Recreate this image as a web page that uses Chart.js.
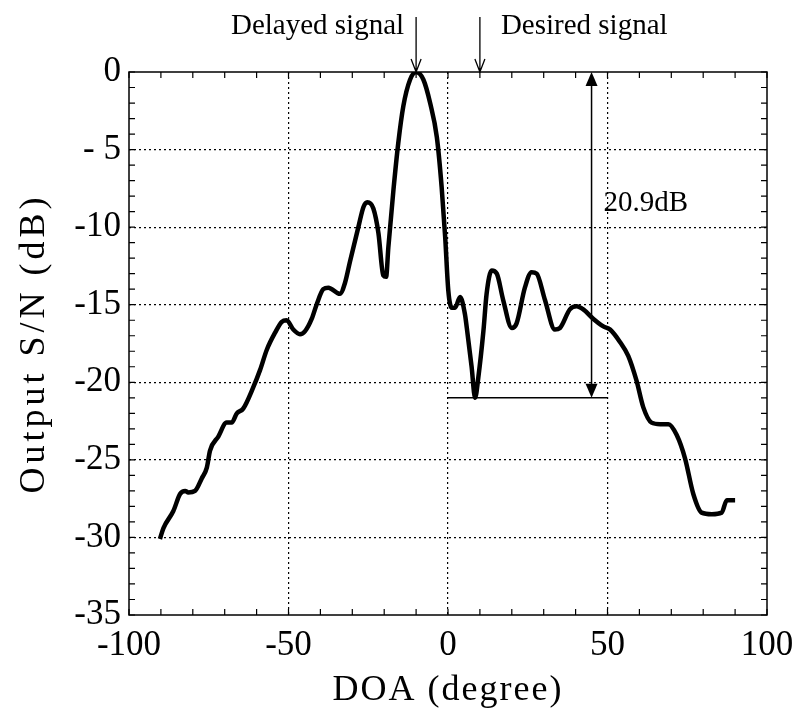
<!DOCTYPE html>
<html lang="en">
<head>
  <meta charset="UTF-8">
  <title>Output S/N (dB)</title>
  <script src="https://cdn.jsdelivr.net/npm/chart.js@4.4.1/dist/chart.umd.min.js"></script>
  <style>
    html, body { margin: 0; padding: 0; background: #fff; }
  </style>
</head>
<body>

  <canvas id="sn" width="793" height="716"></canvas>

  <script>

  // array pattern: output S/N against direction of arrival
  const doa = [
    -90.3, -89.2, -86.1, -84.0, -82.4, -81.4, -79.3, -77.2, -75.6, -74.6,
    -72.0, -69.4, -67.8, -66.2, -64.2, -61.0, -58.9, -56.8, -54.2, -52.1,
    -50.6, -48.5, -46.4, -44.8, -42.7, -41.2, -39.1, -37.5, -33.9, -32.3,
    -30.7, -28.1, -26.5, -25.3, -23.4, -21.8, -20.3, -19.4, -18.7, -17.1,
    -15.6, -14.0, -11.9, -10.0, -7.7, -5.6, -3.5, -2.0, -0.9, 0.1,
    1.2, 2.2, 3.8, 5.3, 5.9, 7.4, 8.5, 9.5, 11.1, 12.1,
    13.7, 15.3, 17.3, 20.0, 21.5, 24.1, 26.2, 27.8, 30.4, 33.5,
    35.1, 38.2, 40.3, 42.4, 45.5, 48.7, 50.8, 53.9, 56.5, 59.1,
    61.2, 63.8, 66.5, 69.1, 71.7, 74.3, 76.9, 79.5, 82.7, 85.8,
    87.4, 90.0
  ];
  const outputSN = [
    -30.1, -29.4, -28.3, -27.2, -27.0, -27.1, -27.0, -26.2, -25.5, -24.4,
    -23.5, -22.6, -22.6, -22.0, -21.7, -20.3, -19.2, -17.9, -16.8, -16.1,
    -16.0, -16.6, -16.9, -16.7, -15.9, -15.0, -14.0, -13.9, -14.3, -13.6,
    -12.2, -10.0, -8.7, -8.4, -8.8, -10.4, -13.1, -13.2, -11.3, -7.6,
    -4.6, -2.2, -0.5, 0.0, -0.5, -2.0, -4.2, -7.4, -10.6, -14.1,
    -15.2, -15.2, -14.5, -15.6, -16.5, -19.0, -21.0, -19.7, -16.7, -14.3,
    -12.8, -13.0, -14.7, -16.5, -16.2, -13.9, -12.9, -13.0, -14.7, -16.6,
    -16.5, -15.3, -15.1, -15.3, -15.9, -16.4, -16.6, -17.4, -18.3, -19.9,
    -21.6, -22.6, -22.7, -22.7, -23.4, -24.9, -27.2, -28.4, -28.5, -28.4,
    -27.6, -27.6
  ];

  const xTicks = [-100, -50, 0, 50, 100];
  const xTickLabels = ['-100', '-50', '0', '50', '100'];
  const yTicks = [0, -5, -10, -15, -20, -25, -30, -35];
  const yTickLabels = ['0', '- 5', '-10', '-15', '-20', '-25', '-30', '-35'];

  // arrival angles of the two signals and the null depth marker
  const delayedDoa = -10;
  const desiredDoa = 10;
  const nullLevel = -21;
  const nullSpan = [0, 50];
  const depthDoa = 45;
  const depthLabel = '20.9dB';

  const serif = "'Liberation Serif', 'Times New Roman', serif";

  function arrowOpen(ctx, x, y1, y2) {
    ctx.beginPath();
    ctx.moveTo(x, y1);
    ctx.lineTo(x, y2);
    ctx.moveTo(x - 5, y2 - 13);
    ctx.lineTo(x, y2);
    ctx.lineTo(x + 5, y2 - 13);
    ctx.stroke();
  }

  function headFilled(ctx, x, y, dir) {
    ctx.beginPath();
    ctx.moveTo(x, y);
    ctx.lineTo(x - 6, y + dir * 14);
    ctx.lineTo(x + 6, y + dir * 14);
    ctx.closePath();
    ctx.fill();
  }

  // frame, inward minor ticks, axis titles and the signal markers
  const decorations = {
    id: 'decorations',
    afterDraw(chart) {
      const { ctx, chartArea: a, scales: { x, y } } = chart;
      ctx.save();
      ctx.strokeStyle = '#000';
      ctx.fillStyle = '#000';

      ctx.lineWidth = 1.5;
      ctx.strokeRect(a.left, a.top, a.right - a.left, a.bottom - a.top);

      ctx.lineWidth = 1.2;
      ctx.beginPath();
      for (let v = -100; v <= 100; v += 10) {
        const px = x.getPixelForValue(v);
        ctx.moveTo(px, a.bottom); ctx.lineTo(px, a.bottom - 6);
        ctx.moveTo(px, a.top); ctx.lineTo(px, a.top + 6);
      }
      for (let v = -35; v <= 0; v += 1) {
        const py = y.getPixelForValue(v);
        ctx.moveTo(a.left, py); ctx.lineTo(a.left + 6, py);
        ctx.moveTo(a.right, py); ctx.lineTo(a.right - 6, py);
      }
      ctx.stroke();

      // axis titles
      ctx.textAlign = 'center';
      ctx.textBaseline = 'middle';
      ctx.font = '36px ' + serif;
      ctx.letterSpacing = '2px';
      ctx.fillText('DOA (degree)', (a.left + a.right) / 2, 691);
      ctx.save();
      ctx.translate(35, (a.top + a.bottom) / 2);
      ctx.rotate(-Math.PI / 2);
      ctx.letterSpacing = '4px';
      ctx.fillText('Output S/N (dB)', 0, 0);
      ctx.restore();
      ctx.letterSpacing = '0px';

      // arrival markers above the frame
      ctx.lineWidth = 1.3;
      const xd = x.getPixelForValue(delayedDoa);
      const xs = x.getPixelForValue(desiredDoa);
      arrowOpen(ctx, xd, 17, a.top);
      arrowOpen(ctx, xs, 17, a.top);
      ctx.font = '29px ' + serif;
      ctx.textBaseline = 'alphabetic';
      ctx.textAlign = 'right';
      ctx.fillText('Delayed signal', xd - 12, 34);
      ctx.textAlign = 'left';
      ctx.fillText('Desired signal', xs + 21, 34);

      // null depth marker
      const yTop = y.getPixelForValue(0);
      const yNull = y.getPixelForValue(nullLevel);
      const xm = x.getPixelForValue(depthDoa);
      ctx.lineWidth = 1.5;
      ctx.beginPath();
      ctx.moveTo(x.getPixelForValue(nullSpan[0]), yNull);
      ctx.lineTo(x.getPixelForValue(nullSpan[1]), yNull);
      ctx.moveTo(xm, yTop + 10);
      ctx.lineTo(xm, yNull - 10);
      ctx.stroke();
      headFilled(ctx, xm, yTop, 1);
      headFilled(ctx, xm, yNull, -1);
      ctx.textBaseline = 'middle';
      ctx.fillText(depthLabel, xm + 12, 203);

      ctx.restore();
    }
  };

  const gridColor = (lo, hi) => c =>
    (c.tick && (c.tick.value === lo || c.tick.value === hi)) ? 'rgba(0,0,0,0)' : '#000';

  const ctx = document.getElementById('sn').getContext('2d');
  const snChart = new Chart(ctx, {
    type: 'line',
    data: {
      datasets: [{
        label: 'Output S/N',
        data: doa.map((d, i) => ({ x: d, y: outputSN[i] })),
        borderColor: '#000',
        borderWidth: 4.5,
        pointRadius: 0,
        cubicInterpolationMode: 'monotone',
        fill: false
      }]
    },
    options: {
      responsive: false,
      animation: false,
      layout: { padding: { top: 72, right: 26, left: 0, bottom: 0 } },
      plugins: { legend: { display: false }, tooltip: { enabled: false } },
      scales: {
        x: {
          type: 'linear',
          min: -100,
          max: 100,
          afterFit: s => { s.height = 101; s.paddingLeft = 0; s.paddingRight = 0; },
          afterBuildTicks: s => { s.ticks = xTicks.map(v => ({ value: v })); },
          ticks: {
            padding: 10,
            color: '#000',
            font: { family: serif, size: 35 },
            maxRotation: 0,
            callback: v => xTickLabels[xTicks.indexOf(v)]
          },
          grid: { drawTicks: false, color: gridColor(-100, 100), lineWidth: 1.2 },
          border: { display: false, dash: [2, 3] }
        },
        y: {
          min: -35,
          max: 0,
          afterFit: s => { s.width = 129; s.paddingTop = 0; s.paddingBottom = 0; },
          afterBuildTicks: s => { s.ticks = yTicks.map(v => ({ value: v })); },
          ticks: {
            padding: 8,
            color: '#000',
            font: { family: serif, size: 35 },
            callback: v => yTickLabels[yTicks.indexOf(v)]
          },
          grid: { drawTicks: false, color: gridColor(-35, 0), lineWidth: 1.2 },
          border: { display: false, dash: [2, 3] }
        }
      }
    },
    plugins: [decorations]
  });

  </script>
</body>
</html>
